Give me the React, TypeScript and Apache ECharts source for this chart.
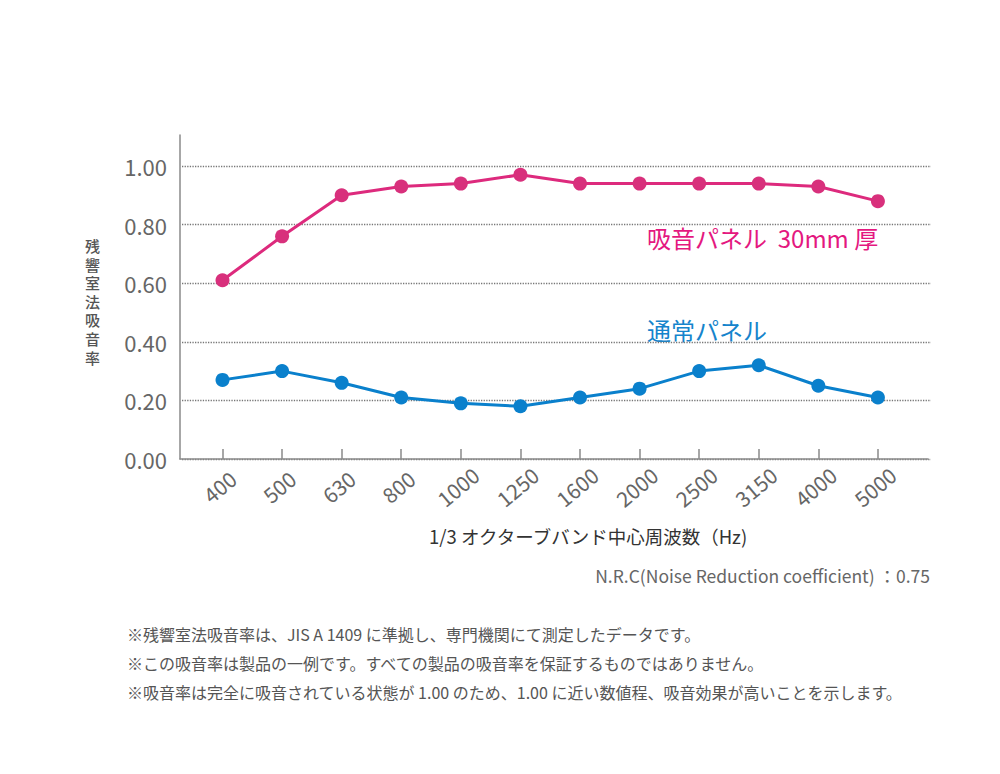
import React, { useEffect, useRef } from "react";
import * as echarts from "echarts";

const categories = ["400", "500", "630", "800", "1000", "1250", "1600", "2000", "2500", "3150", "4000", "5000"];
const panel30mm = [0.61, 0.76, 0.9, 0.93, 0.94, 0.97, 0.94, 0.94, 0.94, 0.94, 0.93, 0.88];
const normalPanel = [0.27, 0.3, 0.26, 0.21, 0.19, 0.18, 0.21, 0.24, 0.3, 0.32, 0.25, 0.21];
const seriesNames = ["吸音パネル  30mm 厚", "通常パネル"];
const yAxisName = "残響室法吸音率";
const xAxisName = "1/3 オクターブバンド中心周波数（Hz)";
const nrcText = "N.R.C(Noise Reduction coefficient) ：0.75";
const notes = [
  "※残響室法吸音率は、JIS A 1409 に準拠し、専門機関にて測定したデータです。",
  "※この吸音率は製品の一例です。すべての製品の吸音率を保証するものではありません。",
  "※吸音率は完全に吸音されている状態が 1.00 のため、1.00 に近い数値程、吸音効果が高いことを示します。",
];

const FONT = "'Noto Sans CJK JP', 'Noto Sans', sans-serif";
const PINK = "#dd2a7d";
const BLUE = "#0a80cc";

export default function App() {
  const ref = useRef<HTMLDivElement>(null);
  useEffect(() => {
    if (!ref.current) return;
    const chart = echarts.init(ref.current, undefined, { renderer: "svg" });
    const option: any = {
      animation: false,
      backgroundColor: "#ffffff",
      textStyle: { fontFamily: FONT },
      grid: [
        { left: 180, right: 72, top: 135, bottom: 315 },
        { left: 182, right: 69, top: 166, bottom: 315 },
        { left: 192.7, right: 92.3, top: 166, bottom: 315 },
      ],
      xAxis: [
        {
          gridIndex: 0, type: "value", min: 0, max: 1,
          axisLine: { show: true, lineStyle: { color: "#8a8a8a", width: 1.5 } },
          axisTick: { show: false }, axisLabel: { show: false }, splitLine: { show: false },
        },
        { gridIndex: 1, type: "value", min: 0, max: 1, show: false },
        {
          gridIndex: 2, type: "category", data: categories, boundaryGap: true,
          axisLine: { show: false },
          axisTick: { show: true, inside: true, length: 10, alignWithLabel: true, lineStyle: { color: "#8a8a8a", width: 1.5 } },
          axisLabel: {
            rotate: 40, align: "center", verticalAlign: "middle", margin: 25,
            fontSize: 21, color: "#666666", fontFamily: FONT, interval: 0,
            padding: [0, 8, 0, 0],
          },
          splitLine: { show: false },
        },
      ],
      yAxis: [
        {
          gridIndex: 0, type: "value", min: 0, max: 1,
          axisLine: { show: true, lineStyle: { color: "#8a8a8a", width: 1.5 } },
          axisTick: { show: false }, axisLabel: { show: false }, splitLine: { show: false },
        },
        {
          gridIndex: 1, type: "value", min: 0, max: 1, interval: 0.2,
          axisLine: { show: false }, axisTick: { show: false },
          axisLabel: {
            margin: 15, fontSize: 22, color: "#666666", fontFamily: FONT,
            formatter: (v: number) => v.toFixed(2),
          },
          splitLine: { show: true, lineStyle: { type: "dotted", color: "#777777", width: 1.3 } },
        },
        { gridIndex: 2, type: "value", min: 0, max: 1, show: false },
      ],
      series: [
        {
          name: seriesNames[0], type: "line", xAxisIndex: 2, yAxisIndex: 2, data: panel30mm,
          symbol: "circle", symbolSize: 14,
          itemStyle: { color: "#d8307c" }, lineStyle: { color: PINK, width: 3 },
        },
        {
          name: seriesNames[1], type: "line", xAxisIndex: 2, yAxisIndex: 2, data: normalPanel,
          symbol: "circle", symbolSize: 14,
          itemStyle: { color: BLUE }, lineStyle: { color: BLUE, width: 3 },
        },
      ],
      graphic: [
        {
          type: "text", left: 647, top: 225,
          style: { text: seriesNames[0], fill: "#e4187f", font: `24px ${FONT}` },
        },
        {
          type: "text", left: 647, top: 317,
          style: { text: seriesNames[1], fill: "#1584cc", font: `24px ${FONT}` },
        },
        ...yAxisName.split("").map((ch, i) => ({
          type: "text", left: 85, top: 238 + i * 18.6,
          style: { text: ch, fill: "#555555", font: `500 15px ${FONT}`, lineHeight: 15 },
        })),
        {
          type: "text", left: 429, top: 527,
          style: { text: xAxisName, fill: "#333333", font: `18.5px ${FONT}` },
        },
        {
          type: "text", right: 70, top: 567,
          style: { text: nrcText, fill: "#666666", font: `17.5px ${FONT}` },
        },
        ...notes.map((t, i) => ({
          type: "text", left: 127, top: 626 + i * 29,
          style: { text: t, fill: "#555555", font: `16px ${FONT}` },
        })),
      ],
    };
    chart.setOption(option);
    return () => chart.dispose();
  }, []);
  return <div ref={ref} style={{ width: 1000, height: 774, margin: -8 }} />;
}
